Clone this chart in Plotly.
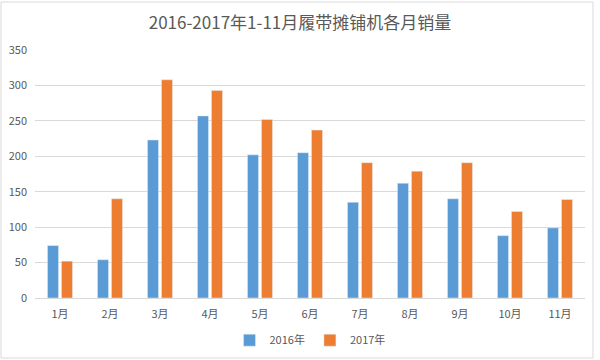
import plotly.graph_objects as go

months = ["1月", "2月", "3月", "4月", "5月", "6月", "7月", "8月", "9月", "10月", "11月"]
sales_2016 = [74, 54, 223, 257, 202, 205, 135, 162, 140, 88, 99]
sales_2017 = [52, 140, 308, 293, 252, 237, 191, 179, 191, 122, 139]
y_ticks = [0, 50, 100, 150, 200, 250, 300, 350]

font_family = "Noto Sans CJK SC, Noto Sans, sans-serif"

fig = go.Figure()
fig.add_trace(go.Bar(x=months, y=sales_2016, name="2016年", marker_color="#5B9BD5"))
fig.add_trace(go.Bar(x=months, y=sales_2017, name="2017年", marker_color="#ED7D31"))

fig.update_layout(
    width=600, height=360,
    margin=dict(l=35, r=15, t=50, b=62, autoexpand=False),
    paper_bgcolor="white", plot_bgcolor="white",
    barmode="group", bargap=0.44, bargroupgap=0.21,
    title=dict(text="2016-2017年1-11月履带摊铺机各月销量", x=0.5, xanchor="center",
               y=1 - 23 / 360, yanchor="middle",
               font=dict(family=font_family, size=17, color="#595959")),
    font=dict(family=font_family, size=11, color="#595959"),
    xaxis=dict(showgrid=False, showline=True, linecolor="#D9D9D9", linewidth=1,
               ticks="", ticklabelstandoff=6, automargin=False,
               tickfont=dict(size=11, color="#595959")),
    yaxis=dict(range=[0, 350], tickvals=y_ticks, showgrid=True, gridcolor="#D9D9D9",
               gridwidth=1, zeroline=False, ticks="", ticklabelstandoff=7, automargin=False,
               tickfont=dict(size=11, color="#595959")),
    legend=dict(orientation="h", x=0.5, xanchor="center", y=-0.17, yanchor="middle",
                font=dict(size=11, color="#595959"), itemwidth=30,
                traceorder="normal"),
    showlegend=True,
)

# chart frame border
fig.add_shape(type="rect", xref="paper", yref="paper",
              x0=-34 / 550, x1=1 + 8 / 550, y0=-60 / 248, y1=1 + 48 / 248,
              line=dict(color="#D9D9D9", width=1), fillcolor="rgba(0,0,0,0)", layer="below")

fig.write_html("out.html", config={"displayModeBar": False},
               post_script="document.body.style.margin='0';document.body.style.padding='0';")
